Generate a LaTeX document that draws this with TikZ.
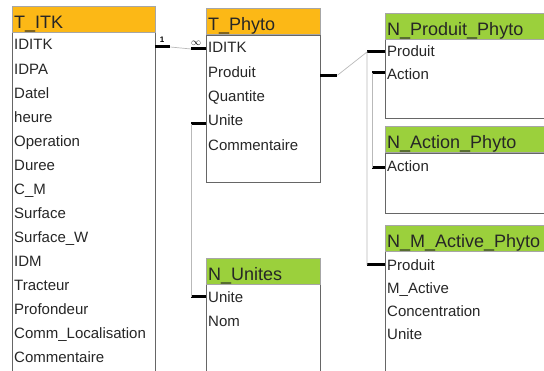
\documentclass[tikz,border=0pt]{standalone}
\usepackage{fontspec}
\setmainfont{Liberation Sans}
\definecolor{hdrorange}{RGB}{252,184,22}
\definecolor{hdrgreen}{RGB}{155,208,60}

\begin{document}
\begin{tikzpicture}[x=1pt, y=-1pt,
  hdr/.style={draw=gray!70, anchor=north west, inner xsep=2pt, inner ysep=0pt, minimum height=26pt,
    text height=19pt, text depth=1pt, align=left, text=black!85, font=\fontsize{18}{18}\selectfont},
  orangehdr/.style={hdr, fill=hdrorange},
  greenhdr/.style={hdr, fill=hdrgreen},
  bodybox/.style={draw=gray!80!black, anchor=north west, inner sep=0pt},
  fld/.style={anchor=base west, inner sep=0pt, text height=11pt, text depth=3pt,
    text=black!85, font=\fontsize{15}{15}\selectfont},
  stub/.style={line width=3pt},
  link/.style={gray!55, line width=0.7pt}]
  \useasboundingbox (0,0) rectangle (544,371);
  \clip (0,0) rectangle (544,371);

  \node[bodybox, minimum width=143pt, minimum height=360pt] (itkb) at (12,32) {};
  \node[orangehdr, text width=139pt] (itk) at (12,6) {T\_ITK};
  \foreach \f [count=\i] in {IDITK, IDPA, Datel, heure, Operation, Duree, C\_M, Surface,
    Surface\_W, IDM, Tracteur, Profondeur, Comm\_Localisation, Commentaire}
    \node[fld] (itk\i) at (14,{50+24.05*(\i-1)}) {\f};

  \node[bodybox, minimum width=114pt, minimum height=147pt] (phyb) at (206,35) {};
  \node[orangehdr, text width=110pt] (phy) at (206,8) {T\_Phyto};
  \foreach \f [count=\i] in {IDITK, Produit, Quantite, Unite, Commentaire}
    \node[fld] (phy\i) at (208,{53+24.3*(\i-1)}) {\f};

  \node[bodybox, minimum width=114pt, minimum height=100pt] (unib) at (206,284) {};
  \node[greenhdr, text width=110pt] (uni) at (206,258) {N\_Unites};
  \node[fld] (uni1) at (208,303) {Unite};
  \node[fld] (uni2) at (208,327) {Nom};

  \node[bodybox, minimum width=170pt, minimum height=80pt] (prodb) at (385,38) {};
  \node[greenhdr, text width=166pt] (prod) at (385,13) {N\_Produit\_Phyto};
  \node[fld] (prod1) at (387,57) {Produit};
  \node[fld] (prod2) at (387,80) {Action};

  \node[bodybox, minimum width=170pt, minimum height=60pt] (actb) at (385,153) {};
  \node[greenhdr, text width=166pt] (act) at (385,126) {N\_Action\_Phyto};
  \node[fld] (act1) at (387,172) {Action};

  \node[bodybox, minimum width=170pt, minimum height=140pt] (mactb) at (385,250) {};
  \node[greenhdr, text width=166pt] (mact) at (385,225) {N\_M\_Active\_Phyto};
  \node[fld] (mact1) at (387,271) {Produit};
  \node[fld] (mact2) at (387,294) {M\_Active};
  \node[fld] (mact3) at (387,317) {Concentration};
  \node[fld] (mact4) at (387,340) {Unite};

  \draw[stub] ([yshift=-1pt]itkb.east |- itk1) -- ++(15,0) coordinate (r1a);
  \draw[stub] (phyb.west |- phy1) -- ++(-15,0) coordinate (r1b);
  \draw[link] (r1a) -- (r1b);
  \node[font=\bfseries\fontsize{8}{8}\selectfont, inner sep=0pt] (one) at (162,40) {1};
  \node[font=\bfseries\fontsize{10}{10}\selectfont, inner sep=0pt] (many) at (196,43) {$\infty$};

  \draw[stub] ([yshift=-2pt]phyb.west |- phy4) -- ++(-15,0) coordinate (u1);
  \draw[stub] ([yshift=2pt]unib.west |- uni1) -- ++(-15,0) coordinate (u2);
  \draw[link] (u1) -- (u2);

  \draw[stub] ([yshift=-2pt]phyb.east |- phy2) -- ++(17,0) coordinate (p1);
  \draw[stub] ([yshift=1pt]prodb.west |- prod1) -- ++(-18,0) coordinate (p2);
  \draw[stub] ([yshift=2pt]mactb.west |- mact1) -- ++(-18,0) coordinate (p3);
  \draw[link] (p1) -- (p2) -- (p3);

  \draw[stub] ([yshift=3pt]prodb.west |- prod2) -- ++(-13,0) coordinate (a1);
  \draw[stub] (actb.west |- act1) -- ++(-13,0) coordinate (a2);
  \draw[link] (a1) -- (a2);
\end{tikzpicture}
\end{document}
